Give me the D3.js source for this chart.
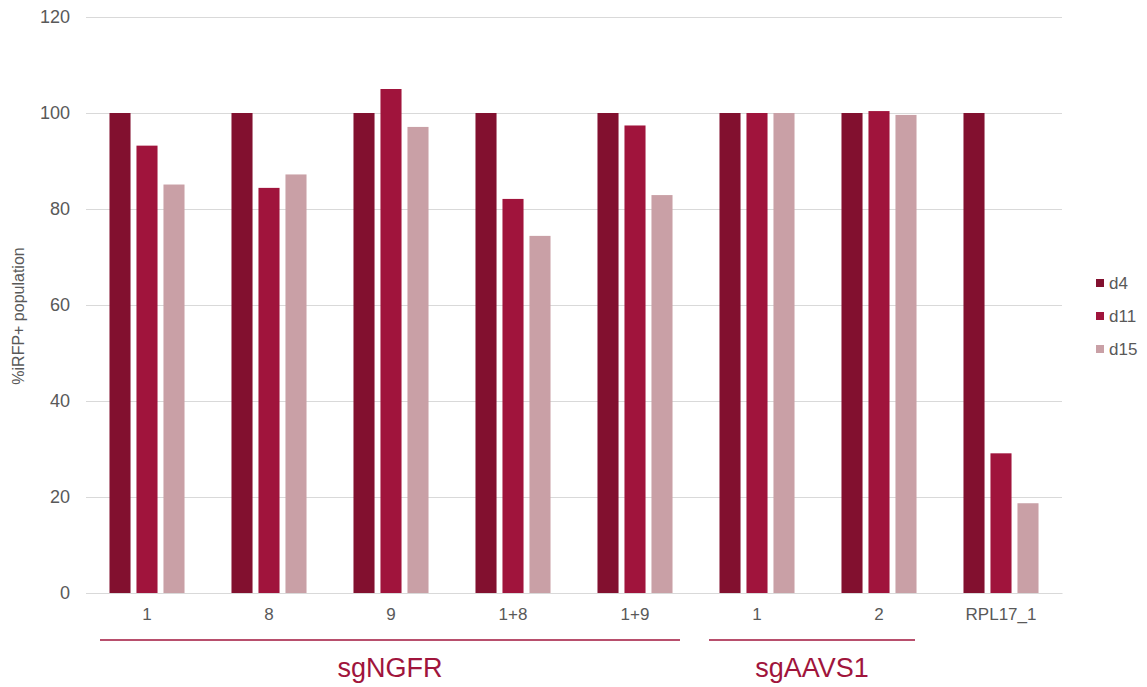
<!DOCTYPE html>
<html>
<head>
<meta charset="utf-8">
<script src="https://cdn.jsdelivr.net/npm/d3@7"></script>
<style>
  html, body { margin: 0; padding: 0; background: #fff; }
  svg { display: block; font-family: "Liberation Sans", Arial, sans-serif; }
</style>
</head>
<body>
<svg id="chart" width="1147" height="687"></svg>
<script>
// Guide names along the x axis
const categories = ["1", "8", "9", "1+8", "1+9", "1", "2", "RPL17_1"];
const seriesNames = ["d4", "d11", "d15"];
const d4  = [100, 100, 100, 100, 100, 100, 100, 100];
const d11 = [93.2, 84.4, 105.0, 82.1, 97.4, 100, 100.4, 29.1];
const d15 = [85.1, 87.2, 97.1, 74.4, 82.9, 100, 99.6, 18.7];
const yTicks = [0, 20, 40, 60, 80, 100, 120];
// Bracketed groups below the axis: first and last category index
const groups = [
  { label: "sgNGFR", from: 0, to: 4, inset: [14, 16] },
  { label: "sgAAVS1", from: 5, to: 6, inset: [13, 25] }
];
const colors = ["#82102f", "#a0143c", "#c9a0a6"];

const svg = d3.select("#chart");
const margin = { left: 86, right: 85, top: 17, bottom: 94 };
const W = 1147, H = 687;
const plotW = W - margin.left - margin.right;
const plotH = H - margin.top - margin.bottom;

const seriesValues = [d4, d11, d15];
const rows = categories.map((c, i) => ({
  key: i,
  name: c,
  values: seriesNames.map((s, j) => ({ series: s, value: seriesValues[j][i], j }))
}));

const x0 = d3.scaleBand().domain(d3.range(categories.length)).range([margin.left, margin.left + plotW]).paddingInner(0).paddingOuter(0);
const x1 = d3.scaleBand().domain(d3.range(seriesNames.length)).range([0, x0.bandwidth()]).paddingInner(0.22).paddingOuter(0.87);
const y = d3.scaleLinear().domain([0, 120]).range([margin.top + plotH, margin.top]);

// Horizontal gridlines
const yAxis = d3.axisLeft(y).tickValues(yTicks).tickSize(-plotW).tickPadding(16);
const gy = svg.append("g").attr("transform", `translate(${margin.left},0)`).call(yAxis);
gy.select(".domain").remove();
gy.selectAll(".tick line").attr("stroke", "#d9d9d9").attr("stroke-width", 1);
gy.selectAll(".tick text").attr("fill", "#595959").style("font-size", "18px");

// Bars
const g = svg.append("g");
g.selectAll("g.cat").data(rows).join("g")
  .attr("class", "cat")
  .attr("transform", d => `translate(${x0(d.key)},0)`)
  .selectAll("rect").data(d => d.values).join("rect")
  .attr("x", d => x1(d.j))
  .attr("width", x1.bandwidth())
  .attr("y", d => y(d.value))
  .attr("height", d => y(0) - y(d.value))
  .attr("fill", d => colors[d.j]);

// Category axis labels
const xAxis = d3.axisBottom(x0).tickFormat(i => categories[i]).tickSize(0).tickPadding(15);
const gx = svg.append("g").attr("transform", `translate(0,${y(0)})`).call(xAxis);
gx.select(".domain").attr("stroke", "#d9d9d9");
gx.selectAll(".tick text").attr("fill", "#595959").style("font-size", "17px");

// Y axis title
svg.append("text")
  .attr("transform", `translate(24,316) rotate(-90)`)
  .attr("text-anchor", "middle")
  .attr("fill", "#595959")
  .style("font-size", "16px")
  .text("%iRFP+ population");

// Group brackets
const lineY = 640;
groups.forEach(gr => {
  const xa = x0(gr.from) + gr.inset[0];
  const xb = x0(gr.to) + x0.bandwidth() - gr.inset[1];
  svg.append("line")
    .attr("x1", xa).attr("x2", xb).attr("y1", lineY).attr("y2", lineY)
    .attr("stroke", "#a0143c").attr("stroke-width", 1.3);
  svg.append("text")
    .attr("x", (xa + xb) / 2).attr("y", 677)
    .attr("text-anchor", "middle")
    .attr("fill", "#a0143c")
    .style("font-size", "27px")
    .text(gr.label);
});

// Legend
const legend = svg.append("g").attr("transform", "translate(1096,283)");
seriesNames.forEach((s, j) => {
  const row = legend.append("g").attr("transform", `translate(0,${j * 33})`);
  row.append("rect").attr("x", 0).attr("y", -4).attr("width", 8).attr("height", 8).attr("fill", colors[j]);
  row.append("text").attr("x", 13).attr("y", 0).attr("dy", "0.35em")
    .attr("fill", "#595959").style("font-size", "17px").text(s);
});
</script>
</body>
</html>
